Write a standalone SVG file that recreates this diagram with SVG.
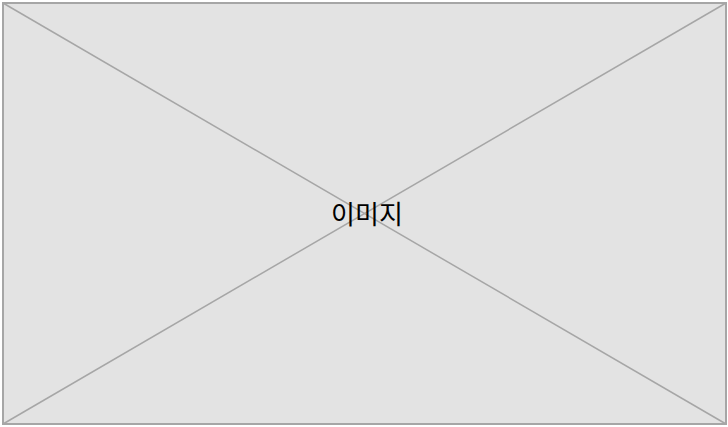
<svg xmlns="http://www.w3.org/2000/svg" width="728" height="427" viewBox="0 0 728 427">
<style>
.frame{fill:#e3e3e3;stroke:#a6a6a6;stroke-width:2}
.diag{stroke:#a6a6a6;stroke-width:1.5;fill:none}
.lbl{font-family:"Noto Sans CJK KR","Noto Sans",sans-serif;font-size:26px;fill:#000}
</style>
<g id="image-placeholder">
<rect class="frame" x="3" y="3" width="723" height="421"/>
<line class="diag" x1="3" y1="3" x2="726" y2="424"/>
<line class="diag" x1="726" y1="3" x2="3" y2="424"/>
<text class="lbl" x="367" y="212" text-anchor="middle" dominant-baseline="central">이미지</text>
</g>
</svg>
